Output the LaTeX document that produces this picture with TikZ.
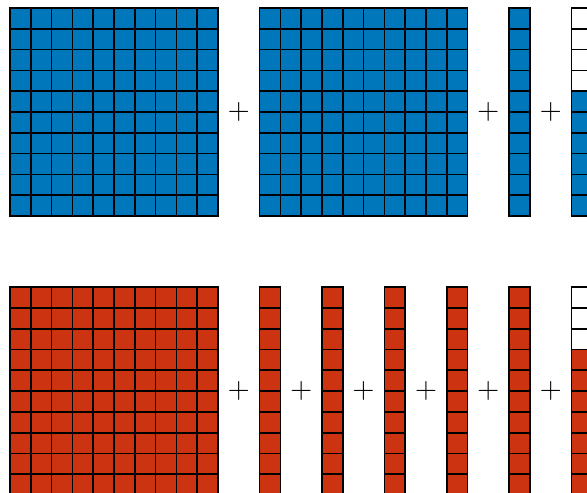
\documentclass[tikz,border=0pt]{standalone}
\usepackage{tikz}

\definecolor{tolblue}{HTML}{0077BB}
\definecolor{tolred}{HTML}{CC3311}

\begin{document}
\begin{tikzpicture}[
  x=0.5cm, y=0.5cm,
  cell/.style={draw=black, line width=1.2pt},
  plus/.style={font=\huge, inner sep=0pt},
]
  \clip (0,0) rectangle (28.22,23.70);

  % top row: 10x10 + 10x10 + 10 + 6
  \foreach \x in {0.48,12.48} {
    \fill[tolblue] (\x,13.315) rectangle ++(10,10);
    \foreach \i in {0,...,9} \foreach \j in {0,...,9}
      \draw[cell] (\x+\i,13.315+\j) rectangle ++(1,1);
  }
  \fill[tolblue] (24.48,13.315) rectangle ++(1,10);
  \fill[tolblue] (27.48,13.315) rectangle ++(1,6);
  \foreach \x in {24.48,27.48} {
    \foreach \j in {0,...,9}
      \draw[cell] (\x,13.315+\j) rectangle ++(1,1);
  }
  \node[plus] (ta) at (11.48,18.315) {$+$};
  \node[plus] (tb) at (23.48,18.315) {$+$};
  \node[plus] (tc) at (26.48,18.315) {$+$};

  % bottom row: 10x10 + five tens + 7
  \fill[tolred] (0.48,-0.10) rectangle ++(10,10);
  \foreach \i in {0,...,9} \foreach \j in {0,...,9}
    \draw[cell] (0.48+\i,-0.10+\j) rectangle ++(1,1);
  \fill[tolred] (27.48,-0.10) rectangle ++(1,7);
  \foreach \x in {12.48,15.48,18.48,21.48,24.48,27.48} {
    \ifdim\x pt<27pt \fill[tolred] (\x,-0.10) rectangle ++(1,10);\fi
    \foreach \j in {0,...,9}
      \draw[cell] (\x,-0.10+\j) rectangle ++(1,1);
  }
  \foreach \x/\n in {11.48/ba,14.48/bb,17.48/bc,20.48/bd,23.48/be,26.48/bf}
    \node[plus] (\n) at (\x,4.9) {$+$};
\end{tikzpicture}
\end{document}
